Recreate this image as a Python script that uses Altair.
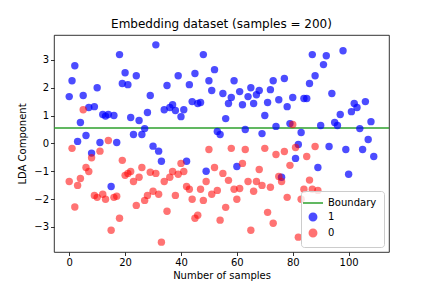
import altair as alt
import pandas as pd

blue_y = [1.68, 2.25, 2.79, 0.07, 0.75, 1.72, 0.28, 1.29, -0.35, 1.32,
          2.00, 0.03, 1.04, 0.98, 1.04, -1.55, 1.00, 0.03, 3.19, 2.15,
          2.54, 2.11, 0.93, 0.32, 2.43, 0.82, 0.32, 0.53, 1.11, 1.72,
          -0.10, 3.54, -0.28, -0.64, 1.21, 2.08, 1.29, 1.39, 1.18, 2.43,
          0.96, 1.21, -0.64, 2.11, 1.50, 2.51, 1.43, 1.47, 3.19, -1.00,
          2.25, 1.90, 2.65, 0.43, 0.32, 1.79, 0.89, 1.43, 1.65, 2.25,
          -0.83, 1.86, 1.39, 0.50, 1.68, 2.00, 1.43, 1.75, 1.90, 0.35,
          1.00, 1.47, 1.93, 2.25, 0.61, 1.57, -1.22, 2.33, 1.32, 0.71,
          1.65, -0.54, -0.04, 0.39, 1.61, 1.61, 2.15, 3.19, 2.43, -0.87,
          0.64, 2.83, 3.15, -0.11, 1.79, 0.75, 0.64, 1.04, 3.33, -0.22,
          -1.11, 1.14, 1.43, 1.29, 0.53, -0.22, 1.50, 0.14, 0.78, -0.47]

red_y = [-1.37, -0.18, -2.29, -1.51, -1.26, 1.21, -0.87, -1.01, -0.52, -1.87,
         -1.94, -0.28, -1.83, -2.01, 0.10, -3.12, -1.94, -1.90, -2.69, -0.61,
         -1.15, -1.08, -1.01, -1.37, -2.23, -1.22, -0.87, -2.05, -1.87, -1.04,
         -1.72, -1.08, -1.83, -3.55, -1.37, -2.44, -1.22, -1.01, -1.87, -1.11,
         -0.72, -1.01, -1.55, -1.65, -2.01, -2.69, -2.58, -1.65, -2.05, -1.37,
         -0.22, -1.83, -0.87, -1.69, -2.76, -1.08, -2.30, -1.33, -0.18, -1.65,
         -2.01, -1.62, -0.72, -0.22, -1.37, -3.12, -1.72, -1.37, -0.94, -1.51,
         -0.18, -2.48, -1.58, -2.87, -0.40, -1.19, -1.37, -0.29, -1.94, -0.79,
         0.68, -0.15, -3.37, -2.01, -1.65, -0.47, -1.32, -1.65, -0.11, -1.69]

boundary = 0.55
legend_labels = ["Boundary", "1", "0"]
legend_colors = ["#2ca02c", "#0000ff", "#ff0000"]
x_ticks = [0, 20, 40, 60, 80, 100]
y_ticks = [-3, -2, -1, 0, 1, 2, 3]

rows = [{"x": i, "y": v, "label": "1"} for i, v in enumerate(blue_y)]
rows += [{"x": i, "y": v, "label": "0"} for i, v in enumerate(red_y)]
pts = pd.DataFrame(rows)
bnd = pd.DataFrame({"y": [boundary], "label": ["Boundary"]})

xmin, xmax = 0, max(len(blue_y), len(red_y)) - 1
xm = 0.05 * (xmax - xmin)
ally = blue_y + red_y
ymin, ymax = min(ally), max(ally)
ym = 0.05 * (ymax - ymin)

font = "DejaVu Sans"
color_scale = alt.Scale(domain=legend_labels, range=legend_colors)

legend = alt.Legend(
    title=None, orient="bottom-right", offset=5,
    labelFont=font, labelFontSize=10, labelColor="black",
    padding=7, rowPadding=2, labelOffset=10,
    strokeColor="#cccccc", fillColor="rgba(255,255,255,0.8)", cornerRadius=3,
    symbolStrokeWidth=1.5,
    symbolType=alt.ExprRef("datum.value === 'Boundary' ? 'stroke' : 'circle'"),
    symbolSize=alt.ExprRef("datum.value === 'Boundary' ? 400 : 55"),
    symbolOpacity=alt.ExprRef("datum.value === '1' ? 0.7 : (datum.value === '0' ? 0.55 : 1)"),
    symbolStrokeColor=alt.ExprRef("datum.value === 'Boundary' ? '#2ca02c' : 'transparent'"),
)

xs = alt.Scale(domain=[xmin - xm, xmax + xm], nice=False, zero=False)
ys = alt.Scale(domain=[ymin - ym, ymax + ym], nice=False, zero=False)

x_axis = alt.Axis(values=x_ticks, title="Number of samples", labelOverlap=False)
y_axis = alt.Axis(values=y_ticks, title="LDA Component", labelOverlap=False,
                  labelExpr="replace(datum.label, '-', '\u2212')")

points = alt.Chart(pts).mark_circle(size=55).encode(
    x=alt.X("x:Q", scale=xs, axis=x_axis),
    y=alt.Y("y:Q", scale=ys, axis=y_axis),
    color=alt.Color("label:N", scale=color_scale, legend=legend),
    opacity=alt.condition(alt.datum.label == "1", alt.value(0.7), alt.value(0.55)),
)

rule = alt.Chart(bnd).mark_rule(strokeWidth=1.5).encode(
    y=alt.Y("y:Q", scale=ys, axis=y_axis),
    color=alt.Color("label:N", scale=color_scale, legend=legend),
)

chart = alt.layer(rule, points).properties(
    width=335, height=217,
    title=alt.Title("Embedding dataset (samples = 200)", font=font, fontSize=12,
                    fontWeight="normal", color="black", offset=4),
    autosize=alt.AutoSizeParams(type="none"),
    padding={"left": 46, "top": 27, "right": 30, "bottom": 32},
).configure_view(stroke="black", strokeWidth=0.8).configure_axis(
    grid=False, domain=False, tickColor="black", tickSize=3.5, tickWidth=0.8,
    labelFont=font, labelFontSize=10, labelColor="black", labelPadding=2,
    labelOverlap=False,
    titleFont=font, titleFontSize=10, titleFontWeight="normal", titleColor="black",
).configure_axisX(titlePadding=3).configure_axisY(titlePadding=6)

chart.save("out.html", embed_options={"renderer": "svg", "actions": False})
